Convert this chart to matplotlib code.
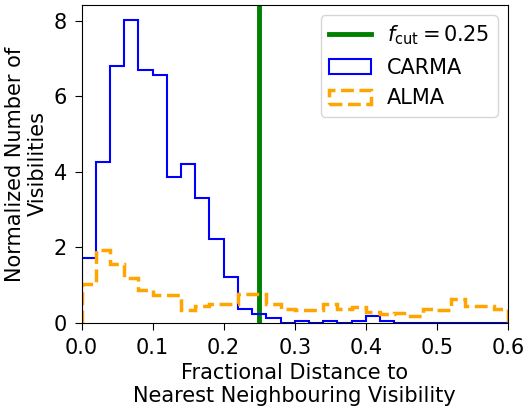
import numpy as np
import matplotlib
matplotlib.use("Agg")
import matplotlib.pyplot as plt

bin_edges = np.round(np.arange(0, 0.6001, 0.02), 2)

carma = [1.72, 4.26, 6.81, 8.01, 6.69, 6.55, 3.87, 4.20, 3.30, 2.23,
         1.21, 0.38, 0.25, 0.13, 0.0, 0.06, 0.0, 0.06, 0.0, 0.06,
         0.19, 0.06, 0.0, 0.0, 0.0, 0.0, 0.0, 0.0, 0.0, 0.0]
alma = [1.03, 1.94, 1.55, 1.18, 0.88, 0.73, 0.73, 0.35, 0.44, 0.49,
        0.51, 0.78, 0.78, 0.49, 0.38, 0.35, 0.34, 0.50, 0.38, 0.41,
        0.29, 0.25, 0.27, 0.19, 0.36, 0.34, 0.64, 0.44, 0.46, 0.38]
f_cut = 0.25

fig = plt.figure(figsize=(5.25, 4.13), dpi=100)
ax = fig.add_axes([81.5/525, 1 - 323/413, 426.5/525, 318/413])

ax.axvline(f_cut, color='green', lw=3.5, label=r'$f_{\rm cut} = 0.25$')
ax.hist(bin_edges[:-1], bins=bin_edges, weights=carma, histtype='step',
        color='blue', lw=1.5, label='CARMA')
ax.hist(bin_edges[:-1], bins=bin_edges, weights=alma, histtype='step',
        color='orange', lw=2.5, linestyle='--', label='ALMA')

ax.set_xlim(0, 0.6)
ax.set_ylim(0, max(carma) * 1.05)
ax.set_yticks([0, 2, 4, 6, 8])
ax.tick_params(labelsize=15, length=5, pad=5.5)
ax.set_xlabel('Fractional Distance to\nNearest Neighbouring Visibility', fontsize=15)
ax.set_ylabel('Normalized Number of\nVisibilities', fontsize=15)
ax.legend(loc='upper right', fontsize=15)

fig.savefig('out.png', dpi=100)
